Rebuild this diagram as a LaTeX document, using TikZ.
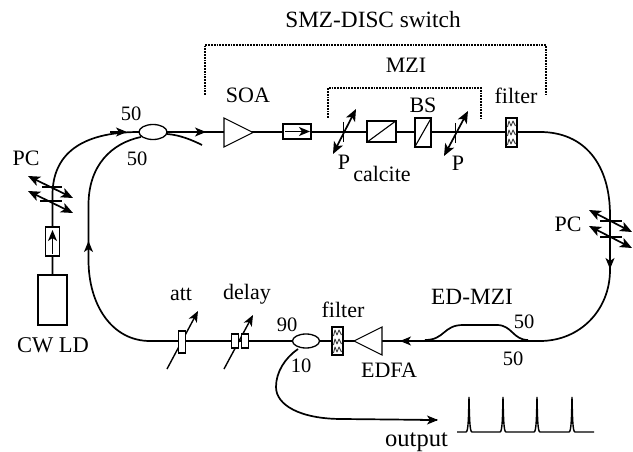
\documentclass[tikz,border=0pt]{standalone}
\usepackage{fontspec}
\setmainfont{Liberation Serif}
\usetikzlibrary{arrows.meta,shapes.geometric}
\tikzset{
 fib/.style={line width=1.7pt},
 thin box/.style={draw,line width=1.1pt,fill=white,inner sep=0pt},
 arrowtip/.style={-{Stealth[length=11pt,width=9pt,inset=3pt]}},
 dbl/.style={line width=1.7pt,{Stealth[length=12pt,width=10pt,inset=3pt]}-{Stealth[length=12pt,width=10pt,inset=3pt]}},
 brk/.style={line width=1.1pt,dash pattern=on 1.8pt off 1pt},
 tick/.style={line width=1.1pt},
 wig/.style={line width=0.9pt,black!75,line join=round},
 lab/.style={inner sep=0pt,font=\fontsize{22}{22}\selectfont},
 big/.style={inner sep=0pt,font=\fontsize{23.3}{23}\selectfont},
 num/.style={inner sep=0pt,font=\fontsize{20.5}{20}\selectfont},
}
\begin{document}
\begin{tikzpicture}[x=1pt,y=-1pt]
\useasboundingbox[fill=white] (0,0) rectangle (633,452);
% couplers and named anchors
\coordinate (inA) at (52.5,275);
\coordinate (cplL) at (139,132);
\coordinate (cplR) at (167,132);
\coordinate (cplLL) at (141,137);
\coordinate (cplRL) at (167,134);
\coordinate (tailA) at (202,145);
\coordinate (topR) at (540,132);
\coordinate (botR) at (540,341);
\coordinate (outA) at (298,349);
\coordinate (outB) at (437,420);
% fibres
\draw[fib] (inA) -- (52.5,195) .. controls (52.5,155) and (80,132) .. (cplL);
\draw[fib] (cplR) -- (topR) .. controls (585,132) and (610,165) .. (610,215) -- (610,270)
  .. controls (610,310) and (580,341) .. (botR) -- (306,341);
\draw[fib] (306,341) -- (150,341) .. controls (112,341) and (88.5,305) .. (88.5,260) -- (88.5,205)
  .. controls (88.5,165) and (112,143) .. (cplLL);
\draw[fib] (cplRL) .. controls (180,135) and (192,140) .. (tailA);
\draw[fib] (outA) .. controls (285,358) and (276,372) .. (276,387)
  .. controls (276,405) and (300,419) .. (342,419) -- (outB);
\draw[fib] (425,340) .. controls (445,340) and (443,325) .. (463,325) -- (497,325)
  .. controls (512,325) and (513,340) .. (528,340);
% flow arrows
\draw[fib,arrowtip] (110,132) -- (127,132);
\draw[fib,arrowtip] (190,132) -- (206,132);
\draw[fib,arrowtip] (610,250) -- (610,269);
\draw[fib,arrowtip] (420,341) -- (400,341);
\draw[fib,arrowtip] (88.5,260) -- (88.5,241);
\draw[fib,arrowtip] (420,420) -- (438,420);
% coupler ellipses
\node[draw,line width=1.3pt,fill=white,ellipse,minimum width=28pt,minimum height=15pt,inner sep=0pt] (c1) at (153,132) {};
\node[draw,line width=1.3pt,fill=white,ellipse,minimum width=27pt,minimum height=14pt,inner sep=0pt] (c2) at (306,341) {};
% CW LD
\node[thin box,minimum width=29pt,minimum height=50pt] (ld) at (52.5,300) {};
\node[thin box,minimum width=14pt,minimum height=29pt] (iso1) at (52.5,241.5) {};
\draw[fib,arrowtip] (52.5,254) -- (52.5,230);
% SOA
\draw[line width=1.1pt,fill=white] (224,118) -- (253,132.5) -- (224,147) -- cycle;
\node[thin box,minimum width=28pt,minimum height=15pt] (iso2) at (297,131.5) {};
\draw[fib,arrowtip] (285,131.5) -- (310,131.5);
% calcite
\node[thin box,minimum width=29pt,minimum height=21pt] (cal) at (381.5,131.5) {};
\draw[line width=1.1pt] (cal.south west) -- (cal.north east);
% BS
\node[thin box,minimum width=16pt,minimum height=29pt] (bs) at (423,132.5) {};
\draw[line width=1.1pt] (bs.south west) -- (bs.north east);
% polarisers
\draw[dbl] (333,154) -- (356,109);
\draw[tick] (343.5,122) -- (343.5,142);
\draw[dbl] (444,156) -- (468,111);
\draw[tick] (455.5,123) -- (455.5,143);
% filters
\node[thin box,minimum width=11pt,minimum height=29pt] (f1) at (511.5,132.5) {};
\foreach \yy in {120,129,138}{
 \draw[wig] (507.5,\yy+7) -- (509,\yy+1) -- (511,\yy+6) -- (513,\yy+1) -- (515.5,\yy+6);
}
\node[thin box,minimum width=11pt,minimum height=28pt] (f2) at (337.5,341) {};
\foreach \yy in {329,338,346}{
 \draw[wig] (333.5,\yy+7) -- (335,\yy+1) -- (337,\yy+6) -- (339,\yy+1) -- (341.5,\yy+6);
}
% EDFA
\draw[line width=1.1pt,fill=white] (382,327) -- (354,341) -- (382,355) -- cycle;
% att, delay
\draw[line width=1.4pt,arrowtip] (167,369) -- (198,311);
\node[thin box,minimum width=6.5pt,minimum height=22pt] (att) at (182,342) {};
\draw[line width=1.4pt,arrowtip] (224,369) -- (253,315);
\node[thin box,minimum width=6.5pt,minimum height=14pt] (d1) at (235,341) {};
\node[thin box,minimum width=6.5pt,minimum height=14pt] (d2) at (245,341) {};
% PCs
\foreach \dy in {0,15}{
 \draw[dbl] (28,176+\dy) -- (73,198+\dy);
}
\draw[tick] (42,187) -- (62,187);
\draw[tick] (40,201) -- (62,201);
\foreach \dy in {0,16}{
 \draw[dbl] (589,210+\dy) -- (632,232+\dy);
}
\draw[tick] (600,221) -- (622,221);
\draw[tick] (600,237) -- (622,237);
% dashed brackets
\draw[brk] (205,95) -- (205,45) -- (546,45) -- (546,96);
\draw[brk] (328,118) -- (328,88) -- (481,88) -- (481,118);
% pulses
\draw[line width=1.4pt] (457,432) -- (466,432) .. controls (468.5,432) and (468.5,415) .. (469,397) .. controls (469.5,415) and (469.5,432) .. (472,432)
 -- (500,432) .. controls (502.5,432) and (502.5,415) .. (503,397) .. controls (503.5,415) and (503.5,432) .. (506,432)
 -- (534,432) .. controls (536.5,432) and (536.5,415) .. (537,397) .. controls (537.5,415) and (537.5,432) .. (540,432)
 -- (569,432) .. controls (571.5,432) and (571.5,415) .. (572,397) .. controls (572.5,415) and (572.5,432) .. (575,432) -- (594,432);
% labels
\node[big] (t1) at (373,20) {SMZ-DISC switch};
\node[lab] (t2) at (406,65) {MZI};
\node[lab] (t3) at (248,95) {SOA};
\node[lab] (t4) at (423,105) {BS};
\node[lab] (t5) at (516,96) {filter};
\node[lab] (t6) at (344,162) {P};
\node[lab] (t7) at (382,174) {calcite};
\node[lab] (t8) at (458,163) {P};
\node[num] (t9) at (131,114) {50};
\node[num] (t10) at (137,159) {50};
\node[lab] (t11) at (26,158) {PC};
\node[lab] (t12) at (568,224) {PC};
\node[big] (t13) at (472,297) {ED-MZI};
\node[num] (t14) at (524,322) {50};
\node[num] (t15) at (513,359) {50};
\node[num] (t16) at (287,325) {90};
\node[num] (t17) at (301,366) {10};
\node[lab] (t18) at (343,310) {filter};
\node[lab] (t19) at (389,370) {EDFA};
\node[lab] (t20) at (181,294) {att};
\node[lab] (t21) at (247,294) {delay};
\node[lab,font=\fontsize{22.5}{22}\selectfont] (t22) at (53,345) {CW LD};
\node[inner sep=0pt,anchor=base,font=\fontsize{24.5}{25}\selectfont] (t23) at (416.5,446) {output};
\end{tikzpicture}
\end{document}
